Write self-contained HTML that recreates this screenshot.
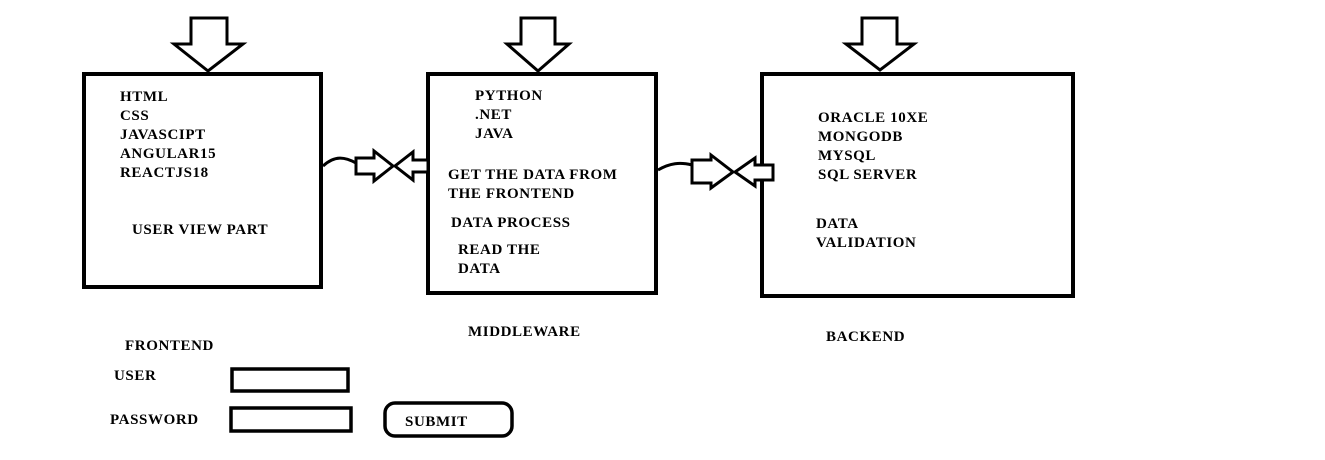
<!DOCTYPE html>
<html><head><style>
html,body{margin:0;padding:0;background:#fff;}
svg{display:block}
text{font-family:"Liberation Serif",serif;font-weight:bold;font-size:15px;letter-spacing:0.6px;fill:#000}
</style></head><body>
<svg width="1325" height="460" viewBox="0 0 1325 460">
<g fill="none" stroke="#000" stroke-width="4">
<rect x="84" y="74" width="237" height="213"/>
<rect x="428" y="74" width="228" height="219"/>
<rect x="762" y="74" width="311" height="222"/>
<rect x="232" y="369" width="116" height="22" stroke-width="3.5"/>
<rect x="231" y="408" width="120" height="23" stroke-width="3.5"/>
<rect x="385" y="403" width="127" height="33" rx="10" stroke-width="3.5"/>
</g>
<g fill="#fff" stroke="#000" stroke-width="3">
<polygon points="191,18 227,18 227,44 243,44 208,71 174,44 191,44"/>
<polygon points="521,18 555,18 555,44 569,44 538,71 507,44 521,44"/>
<polygon points="862,18 897,18 897,44 914,44 880,70 846,44 862,44"/>
</g>
<g fill="none" stroke="#000" stroke-width="3">
<path d="M323,166 C335,155 345,157 356,163"/>
<path d="M658,170 C670,163 680,162 692,165"/>
</g>
<g fill="#fff" stroke="#000" stroke-width="3">
<polygon points="356,158 374,158 374,151 393,166 374,181 374,174 356,174"/>
<polygon points="428,160 413,160 413,152 395,166 413,180 413,172 428,172"/>
<polygon points="692,160 711,160 711,155 733,172 711,188 711,183 692,183"/>
<polygon points="773,165 755,165 755,158 735,172 755,186 755,180 773,180"/>
</g>
<text x="120" y="101">HTML</text>
<text x="120" y="120">CSS</text>
<text x="120" y="139">JAVASCIPT</text>
<text x="120" y="158">ANGULAR15</text>
<text x="120" y="177">REACTJS18</text>
<text x="132" y="234">USER VIEW PART</text>
<text x="475" y="100">PYTHON</text>
<text x="475" y="119">.NET</text>
<text x="475" y="138">JAVA</text>
<text x="448" y="179">GET THE DATA FROM</text>
<text x="448" y="198">THE FRONTEND</text>
<text x="451" y="227">DATA PROCESS</text>
<text x="458" y="254">READ THE</text>
<text x="458" y="273">DATA</text>
<text x="818" y="122">ORACLE 10XE</text>
<text x="818" y="141">MONGODB</text>
<text x="818" y="160">MYSQL</text>
<text x="818" y="179">SQL SERVER</text>
<text x="816" y="228">DATA</text>
<text x="816" y="247">VALIDATION</text>
<text x="125" y="350">FRONTEND</text>
<text x="468" y="336">MIDDLEWARE</text>
<text x="826" y="341">BACKEND</text>
<text x="114" y="380">USER</text>
<text x="110" y="424">PASSWORD</text>
<text x="405" y="426">SUBMIT</text>
</svg>
</body></html>
